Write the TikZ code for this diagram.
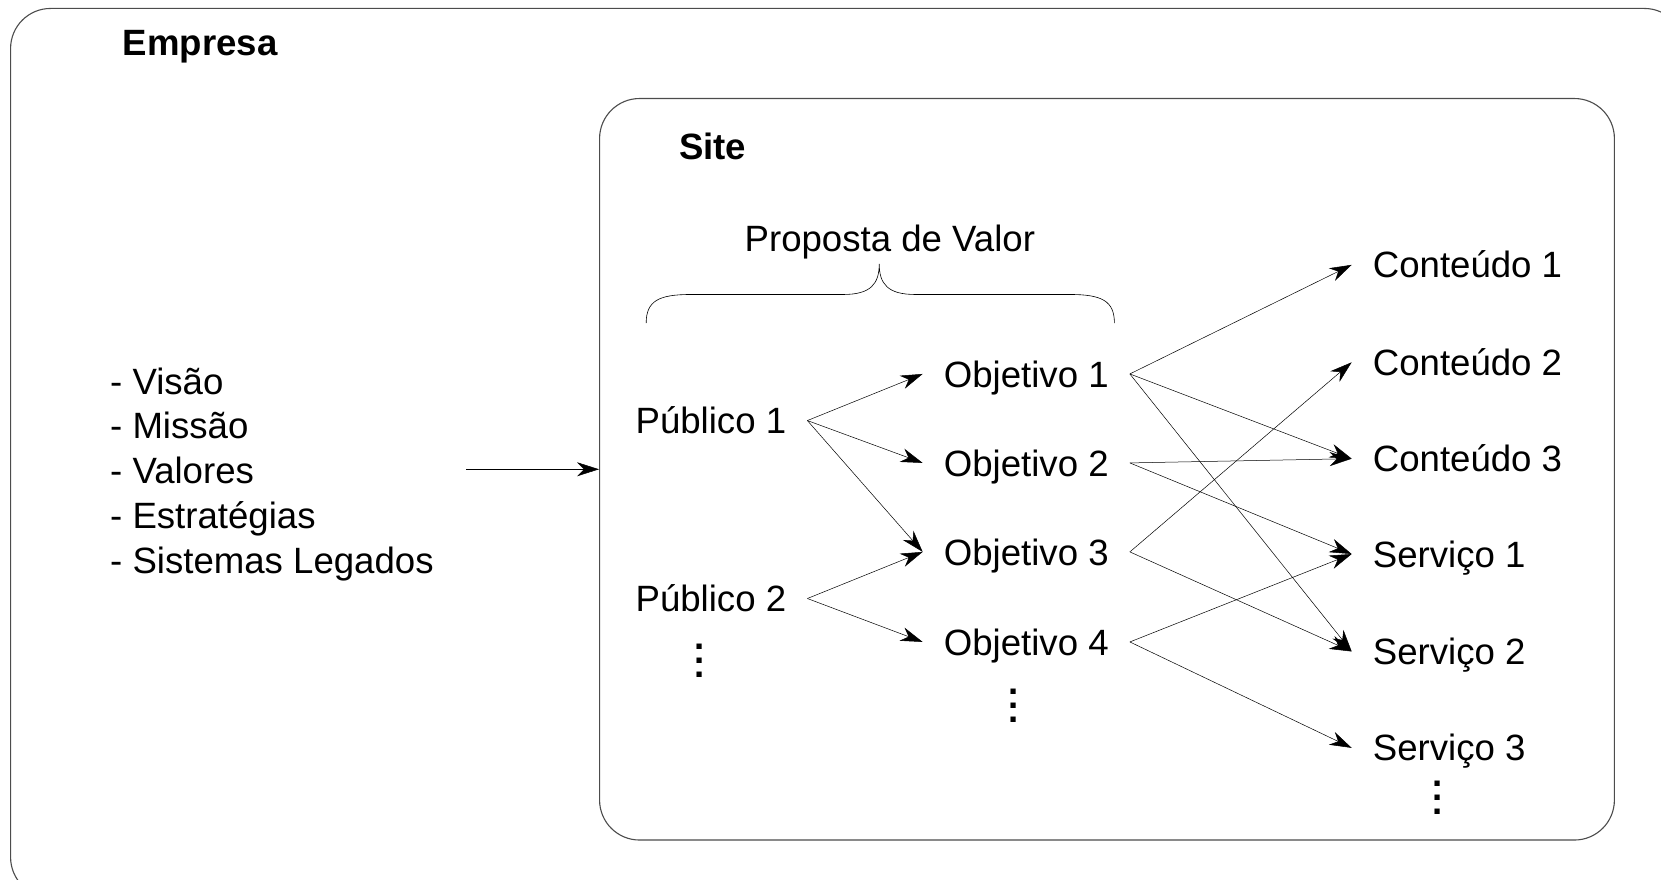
\documentclass[tikz,border=0pt]{standalone}
\usepackage{fontspec}
\setmainfont{Liberation Sans}
\usetikzlibrary{arrows.meta, positioning}

\newcommand{\pontosv}{\vbox{\baselineskip=14pt\lineskiplimit=-10pt\hbox{\bfseries .}\hbox{\bfseries .}\hbox{\bfseries .}}}

\begin{document}
\begin{tikzpicture}[x=1.0593pt, y=-1.0593pt,
  txt/.style={font=\fontsize{36.6pt}{44pt}\selectfont, anchor=west, inner xsep=21pt, inner ysep=0pt, text height=26.2pt, text depth=0pt},
  titulo/.style={txt, font=\fontsize{36.6pt}{44pt}\selectfont\bfseries},
  pontos/.style={inner sep=0pt},
  caixa/.style={draw=black!70, line width=1.1pt, rounded corners=40pt},
  seta/.style={-{Stealth[length=22pt, width=14pt, inset=7pt]}, line width=0.5pt}]
\clip (0,0) rectangle (1568,830);

% Empresa
\node[caixa, minimum width=1673.7pt, minimum height=888.8pt] (empresa) at (800,427.5) {};
\node[titulo] (tempresa) at (96,40) {Empresa};

\node[txt] (visao) at (84,360) {- Visão};
\node[txt] (missao) at (84,402) {- Missão};
\node[txt] (valores) at (84,444) {- Valores};
\node[txt] (estrategias) at (84,487) {- Estratégias};
\node[txt] (legados) at (84,529) {- Sistemas Legados};

% Site
\node[caixa, minimum width=1014.8pt, minimum height=741.5pt] (site) at (1045,443) {};
\node[titulo] (tsite) at (621,138) {Site};
\coordinate (entrada) at (440,443);
\draw[seta] (entrada) -- (site.west);

% Proposta de valor
\node[txt, anchor=center] (proposta) at (840,225) {Proposta de Valor};
\draw[line width=0.6pt] (610,305) .. controls (610,284) and (622,278) .. (652,278)
  -- (796,278) .. controls (822,278) and (830,268) .. (830,249)
  .. controls (830,268) and (838,278) .. (864,278)
  -- (1010,278) .. controls (1040,278) and (1052,284) .. (1052,305);

% Publicos
\node[txt] (pub1) at (580,397) {Público 1};
\node[txt] (pub2) at (580,565) {Público 2};
\node[pontos] (vpub) at (660,624) {\fontsize{36.6pt}{44pt}\selectfont\pontosv};

% Objetivos
\node[txt] (obj1) at (871,353) {Objetivo 1};
\node[txt] (obj2) at (871,437) {Objetivo 2};
\node[txt] (obj3) at (871,521) {Objetivo 3};
\node[txt] (obj4) at (871,606) {Objetivo 4};
\node[pontos] (vobj) at (957,666) {\fontsize{36.6pt}{44pt}\selectfont\pontosv};

% Conteudos e servicos
\node[txt] (cont1) at (1276,250) {Conteúdo 1};
\node[txt] (cont2) at (1276,342) {Conteúdo 2};
\node[txt] (cont3) at (1276,433) {Conteúdo 3};
\node[txt] (serv1) at (1276,523) {Serviço 1};
\node[txt] (serv2) at (1276,615) {Serviço 2};
\node[txt] (serv3) at (1276,706) {Serviço 3};
\node[pontos] (vserv) at (1357,753) {\fontsize{36.6pt}{44pt}\selectfont\pontosv};

% ligacoes
\draw[seta] (pub1.east) -- (obj1.west);
\draw[seta] (pub1.east) -- (obj2.west);
\draw[seta] (pub1.east) -- (obj3.west);
\draw[seta] (pub2.east) -- (obj3.west);
\draw[seta] (pub2.east) -- (obj4.west);

\draw[seta] (obj1.east) -- (cont1.west);
\draw[seta] (obj1.east) -- (cont3.west);
\draw[seta] (obj1.east) -- (serv2.west);
\draw[seta] (obj2.east) -- (cont3.west);
\draw[seta] (obj2.east) -- (serv1.west);
\draw[seta] (obj3.east) -- (cont2.west);
\draw[seta] (obj3.east) -- (serv2.west);
\draw[seta] (obj4.east) -- (serv1.west);
\draw[seta] (obj4.east) -- (serv3.west);
\end{tikzpicture}
\end{document}
